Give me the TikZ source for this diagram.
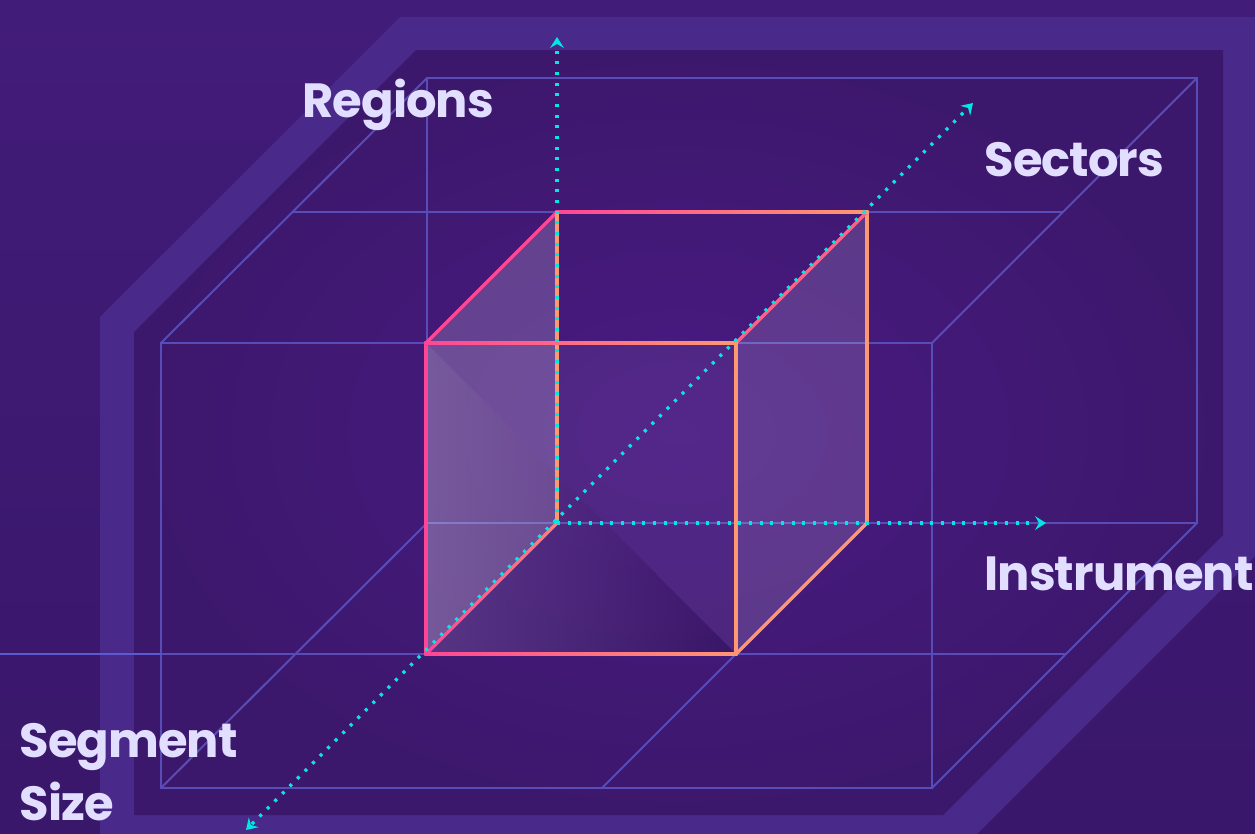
\documentclass[tikz,border=0pt]{standalone}
\usepackage{fontspec}
\newfontfamily\labelfont{Poppins}[LetterSpace=-2]
\definecolor{bgcol}{RGB}{66,28,121}
\definecolor{bgdark}{RGB}{57,23,106}
\definecolor{bandcol}{RGB}{73,41,138}
\definecolor{innercol}{RGB}{60,24,108}
\definecolor{glowcol}{RGB}{74,26,132}
\definecolor{gridcol}{RGB}{88,76,184}
\definecolor{gridbright}{RGB}{92,90,210}
\definecolor{axiscol}{RGB}{0,232,226}
\definecolor{cubepink}{RGB}{255,70,150}
\definecolor{cubeorange}{RGB}{255,152,112}
\definecolor{cubesalmon}{RGB}{255,128,122}
\definecolor{cubered}{RGB}{250,98,140}
\definecolor{labelcol}{RGB}{226,222,255}
\tikzset{every picture/.style={line width=0.75pt}}

\begin{document}
\begin{tikzpicture}[x=0.75pt,y=0.75pt,yscale=-1,xscale=1,
  gridline/.style={draw=gridcol, line width=1.5pt},
  cubeline/.style={line width=2.5pt, line cap=round},
  axisdots/.style={draw=axiscol, line width=2.5pt, dash pattern=on 2.3pt off 5.7pt},
  axislabel/.style={text=labelcol, font=\labelfont\bfseries\fontsize{36}{47}\selectfont, inner sep=0pt, anchor=base west}]
\useasboundingbox (0,0) rectangle (1255,833);
\clip (0,0) rectangle (1255,833);

%Background
\shade [top color=bgcol, bottom color=bgdark] (0,0) rectangle (1255,833);
%Shape: Octagon band
\fill [bandcol] (400,17) -- (1256,17) -- (1256,555) -- (963,848) -- (100,848) -- (100,317) -- cycle;
\shade [inner color=glowcol, outer color=innercol] (416,50) -- (1223,50) -- (1223,535) -- (943,815) -- (134,815) -- (134,332) -- cycle;

%Big box: front face
\draw [gridline] (161,343) -- (932,343) -- (932,788) -- (161,788) -- cycle;
%Big box: back face
\draw [gridline] (427,78) -- (1197,78) -- (1197,523) -- (427,523) -- cycle;
%Big box: depth edges
\draw [gridline] (161,343) -- (427,78);
\draw [gridline] (932,343) -- (1197,78);
\draw [gridline] (932,788) -- (1197,523);
\draw [gridline] (161,788) -- (427,523);
%Middle lines
\draw [gridline] (292,212) -- (1063,212);
\draw [gridline] (161,654) -- (1066,654);
\draw [gridline, draw=gridbright] (0,654) -- (161,654);
\draw [gridline] (736,654) -- (602,788);

%Cube faces
\fill [white, fill opacity=0.18] (557,212) -- (426,343) -- (426,654) -- (557,523) -- cycle;
\fill [white, fill opacity=0.14] (867,212) -- (736,343) -- (736,654) -- (867,523) -- cycle;
\fill [white, fill opacity=0.06] (426,343) -- (736,343) -- (736,654) -- cycle;
\shade [left color=white, right color=black, fill opacity=0.12] (426,343) -- (426,654) -- (736,654) -- cycle;

%Cube edges
\draw [cubeline, cubepink] (426,343) -- (426,654);
\draw [cubeline, cubepink] (426,343) -- (557,212);
\draw [cubeline, cubeorange] (557,212) -- (557,523);
\draw [cubeline, cubeorange] (736,343) -- (736,654);
\draw [cubeline, cubeorange] (867,212) -- (867,523);
\draw [cubeline, cubered] (736,343) -- (867,212);
\draw [cubeline, cubeorange] (736,654) -- (867,523);
\shade [left color=cubepink, right color=cubesalmon] (424.8,652.8) -- (555.8,521.8) -- (558.2,524.2) -- (427.2,655.2) -- cycle;
\shade [left color=cubepink, right color=cubeorange] (424.3,341.3) rectangle (737.7,344.7);
\shade [left color=cubepink, right color=cubeorange] (424.3,652.3) rectangle (737.7,655.7);
\shade [left color=cubepink, right color=cubeorange] (555.3,210.3) rectangle (868.7,213.7);

%Axes
\draw [axisdots] (557,523) -- (557,46);
\draw [axisdots] (557,523) -- (1037,523);
\draw [axisdots] (252,824) -- (967,109);
\draw [shift={(557,37)}, rotate=90] [fill=axiscol][draw opacity=0] (11,-7) -- (0,0) -- (11,7) -- (7,0) -- cycle;
\draw [shift={(1046,523)}, rotate=180] [fill=axiscol][draw opacity=0] (11,-7) -- (0,0) -- (11,7) -- (7,0) -- cycle;
\draw [shift={(973,103)}, rotate=135] [fill=axiscol][draw opacity=0] (11,-7) -- (0,0) -- (11,7) -- (7,0) -- cycle;
\draw [shift={(246,830)}, rotate=-45] [fill=axiscol][draw opacity=0] (11,-7) -- (0,0) -- (11,7) -- (7,0) -- cycle;

% Text Node
\draw (302,117) node [axislabel] (regions) {Regions};
% Text Node
\draw (984,176) node [axislabel] (sectors) {Sectors};
% Text Node
\draw (984,590) node [axislabel] (instrument) {Instrument};
% Text Node
\draw (19,820) node [axislabel, align=left] (segsize) {Segment\\Size};

\end{tikzpicture}
\end{document}
